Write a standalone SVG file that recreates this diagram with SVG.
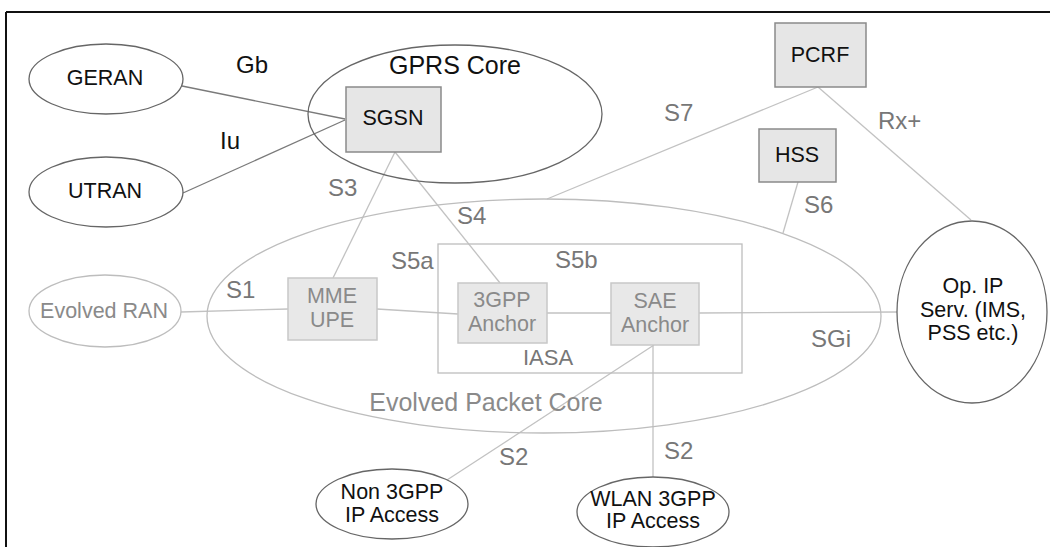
<svg xmlns="http://www.w3.org/2000/svg" width="1050" height="547" viewBox="0 0 1050 547">
<style>
text{font-family:"Liberation Sans",Arial,sans-serif;text-anchor:middle}
.dk{fill:none;stroke:#666;stroke-width:1.3}
.lt{fill:none;stroke:#bdbdbd;stroke-width:1.3}
.bxd{fill:#e6e6e6;stroke:#8a8a8a;stroke-width:1.5}
.bxl{fill:#e8e8e8;stroke:#c8c8c8;stroke-width:1.5}
.tb{fill:#111;font-size:21.5px}
.tl{fill:#8a8a8a;font-size:21.5px}
.lab{fill:#777;font-size:24px;text-anchor:start}
.labk{fill:#111;font-size:24px;text-anchor:start}
.cd{stroke:#7a7a7a;stroke-width:1.3;fill:none}
.cl{stroke:#c2c2c2;stroke-width:1.3;fill:none}
</style>
<rect width="1050" height="547" fill="#fff"/>
<g id="frame">
<line x1="6" y1="12" x2="1050" y2="12" stroke="#111" stroke-width="2"/>
<line x1="6" y1="12" x2="6" y2="547" stroke="#111" stroke-width="2"/>
</g>
<g id="connectors">
<line class="cd" x1="182" y1="86" x2="345" y2="119"/>
<line class="cd" x1="183" y1="193" x2="345" y2="120"/>
<line class="cl" x1="395" y1="152" x2="333" y2="278"/>
<line class="cl" x1="395" y1="152" x2="500" y2="283"/>
<line class="cl" x1="818" y1="87" x2="547" y2="199"/>
<line class="cl" x1="818" y1="87" x2="971" y2="220"/>
<line class="cl" x1="798" y1="182" x2="783" y2="233"/>
<line class="cl" x1="181" y1="312" x2="288" y2="309"/>
<line class="cl" x1="377" y1="309" x2="458" y2="314"/>
<line class="cl" x1="547" y1="313" x2="611" y2="313"/>
<line class="cl" x1="699" y1="313" x2="897" y2="312"/>
<line class="cl" x1="654" y1="345" x2="447" y2="480"/>
<line class="cl" x1="653" y1="345" x2="653" y2="477"/>
<text class="labk" x="236" y="73">Gb</text>
<text class="labk" x="220" y="149">Iu</text>
<text class="lab" x="328" y="196">S3</text>
<text class="lab" x="457" y="224">S4</text>
<text class="lab" x="391" y="269">S5a</text>
<text class="lab" x="555" y="268">S5b</text>
<text class="lab" x="226" y="298">S1</text>
<text class="lab" x="664" y="121">S7</text>
<text class="lab" x="878" y="129">Rx+</text>
<text class="lab" x="804" y="213">S6</text>
<text class="lab" x="811" y="347">SGi</text>
<text class="lab" x="499" y="465">S2</text>
<text class="lab" x="664" y="459">S2</text>
</g>
<g id="epc">
<ellipse class="lt" cx="544" cy="316" rx="337" ry="117"/>
<text x="486" y="411" fill="#8a8a8a" font-size="25">Evolved Packet Core</text>
</g>
<g id="iasa">
<rect class="lt" x="438" y="244" width="304" height="129"/>
<text x="548" y="365" fill="#777" font-size="22">IASA</text>
</g>
<g id="gprs">
<ellipse class="dk" cx="455" cy="114" rx="147" ry="69"/>
<text x="455" y="74" fill="#111" font-size="25">GPRS Core</text>
</g>
<g id="geran">
<ellipse class="dk" cx="106" cy="79" rx="77" ry="35"/>
<text class="tb" x="105" y="85">GERAN</text>
</g>
<g id="utran">
<ellipse class="dk" cx="106" cy="192" rx="77" ry="35"/>
<text class="tb" x="105" y="198">UTRAN</text>
</g>
<g id="sgsn">
<rect class="bxd" x="346" y="87" width="95" height="65"/>
<text class="tb" x="393" y="125">SGSN</text>
</g>
<g id="pcrf">
<rect class="bxd" x="775" y="23" width="91" height="64"/>
<text class="tb" x="820" y="62">PCRF</text>
</g>
<g id="hss">
<rect class="bxd" x="759" y="129" width="77" height="53"/>
<text class="tb" x="797" y="162">HSS</text>
</g>
<g id="evolved-ran">
<ellipse class="lt" cx="105" cy="311" rx="76" ry="36"/>
<text class="tl" x="104" y="318">Evolved RAN</text>
</g>
<g id="mme">
<rect class="bxl" x="288" y="278" width="89" height="62"/>
<text class="tl" x="332" y="303">MME</text>
<text class="tl" x="332" y="327">UPE</text>
</g>
<g id="anchor3gpp">
<rect class="bxl" x="458" y="283" width="89" height="60"/>
<text class="tl" x="502" y="307">3GPP</text>
<text class="tl" x="502" y="331">Anchor</text>
</g>
<g id="sae">
<rect class="bxl" x="611" y="283" width="88" height="62"/>
<text class="tl" x="655" y="308">SAE</text>
<text class="tl" x="655" y="332">Anchor</text>
</g>
<g id="opip">
<ellipse class="dk" cx="972" cy="312" rx="75" ry="91"/>
<text class="tb" x="973" y="293">Op. IP</text>
<text class="tb" x="973" y="317">Serv. (IMS,</text>
<text class="tb" x="973" y="340">PSS etc.)</text>
</g>
<g id="non3gpp">
<ellipse class="dk" cx="392" cy="504" rx="76" ry="35"/>
<text class="tb" x="392" y="499">Non 3GPP</text>
<text class="tb" x="392" y="522">IP Access</text>
</g>
<g id="wlan">
<ellipse class="dk" cx="653" cy="512" rx="76" ry="35"/>
<text class="tb" x="653" y="506">WLAN 3GPP</text>
<text class="tb" x="653" y="528">IP Access</text>
</g>
</svg>
